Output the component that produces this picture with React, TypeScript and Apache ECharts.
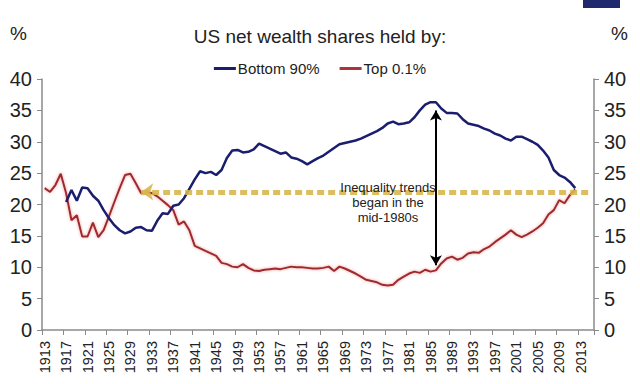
import React, { useEffect, useRef } from "react";
import * as echarts from "echarts";

const firstYear = 1913;
const lastYear = 2015;
const years: string[] = Array.from({ length: lastYear - firstYear + 1 }, (_, i) => String(firstYear + i));

const yTicks = [0, 5, 10, 15, 20, 25, 30, 35, 40];

// Bottom 90% share (%), 1913..2015 (null where no data)
const bottom90: (number | null)[] = [
  null, null, null, null,
  20.4, 22.3, 20.6, 22.7, 22.6, 21.4, 20.6, 19.1, 17.8, 16.7,
  15.9, 15.4, 15.7, 16.3, 16.4, 15.9, 15.8, 17.4, 18.6, 18.5,
  19.8, 20.0, 21.0, 22.5, 24.0, 25.3, 25.0, 25.2, 24.7, 25.5,
  27.4, 28.6, 28.7, 28.3, 28.4, 28.8, 29.7, 29.3, 28.9, 28.5,
  28.1, 28.3, 27.5, 27.3, 26.9, 26.4, 26.9, 27.4, 27.8, 28.4,
  29.0, 29.6, 29.8, 30.0, 30.2, 30.5, 30.9, 31.3, 31.7, 32.2,
  32.9, 33.2, 32.8, 32.9, 33.1, 33.9, 35.0, 35.9, 36.3, 36.3,
  35.3, 34.6, 34.6, 34.5, 33.6, 32.9, 32.7, 32.5, 32.1, 31.8,
  31.3, 31.0, 30.5, 30.2, 30.8, 30.8, 30.4, 30.0, 29.5, 28.6,
  27.5, 25.5, 24.7, 24.3, 23.6, 22.6,
  null, null, null,
];

// Top 0.1% share (%), 1913..2015
const top01: (number | null)[] = [
  22.6, 22.0, 23.1, 24.9, 21.8, 17.5, 18.3, 14.9, 14.9, 17.1,
  14.8, 15.9, 18.1, 20.4, 22.6, 24.7, 24.9, 23.4, 21.8, 22.0,
  21.8, 21.3, 20.6, 19.9, 19.1, 16.8, 17.3, 15.9, 13.4, 13.0,
  12.6, 12.2, 11.8, 10.7, 10.5, 10.1, 10.0, 10.5, 9.9, 9.5,
  9.4, 9.6, 9.7, 9.8, 9.7, 9.9, 10.1, 10.0, 10.0, 9.9,
  9.8, 9.8, 9.9, 10.1, 9.4, 10.1, 9.8, 9.4, 9.0, 8.5,
  8.0, 7.8, 7.6, 7.2, 7.1, 7.2, 8.0, 8.5, 9.0, 9.3,
  9.1, 9.6, 9.3, 9.5, 10.6, 11.4, 11.7, 11.2, 11.5, 12.2,
  12.4, 12.3, 12.9, 13.3, 14.0, 14.6, 15.2, 15.9, 15.2, 14.8,
  15.2, 15.7, 16.3, 17.0, 18.4, 19.1, 20.7, 20.2, 21.5, 22.4,
  null, null, null,
];

const seriesNames = ["Bottom 90%", "Top 0.1%"];
const titleText = "US net wealth shares held by:";
const noteText = "Inequality trends\nbegan in the\nmid-1980s";
const dashedArrow = { from: "1931", to: "2015", value: 22 };
const doubleArrow = { year: "1986", top: 35.0, bottom: 10.3 };

const FONT = "'Liberation Sans', Arial, sans-serif";

export default function App() {
  const ref = useRef<HTMLDivElement>(null);

  useEffect(() => {
    document.body.style.margin = "0";
    const chart = echarts.init(ref.current!, undefined, { renderer: "svg" });

    const yAxisCommon = {
      type: "value" as const,
      min: yTicks[0],
      max: yTicks[yTicks.length - 1],
      interval: 5,
      splitLine: { show: false },
      axisLine: { show: true, lineStyle: { color: "#8a8a8a", width: 1.5 } },
      axisTick: { show: true, length: 5, lineStyle: { color: "#8a8a8a", width: 1 } },
      axisLabel: { color: "#222", fontSize: 20, fontFamily: FONT, margin: 10 },
    };

    chart.setOption({
      animation: false,
      backgroundColor: "#ffffff",
      textStyle: { fontFamily: FONT },
      title: {
        text: titleText,
        left: "center",
        top: 22,
        textStyle: { fontSize: 19, fontWeight: "normal", color: "#222", fontFamily: FONT },
      },
      legend: {
        data: seriesNames,
        left: "center",
        top: 56,
        icon: "rect",
        itemWidth: 22,
        itemHeight: 3,
        itemGap: 20,
        textStyle: { fontSize: 15, color: "#222", fontFamily: FONT, padding: [0, 0, 0, -3] },
      },
      grid: { left: 42, right: 46, top: 79, bottom: 54, containLabel: false },
      xAxis: {
        type: "category",
        data: years,
        boundaryGap: true,
        axisLine: { show: true, lineStyle: { color: "#8a8a8a", width: 1.5 } },
        axisTick: { show: true, interval: 3, length: 5, lineStyle: { color: "#8a8a8a" } },
        axisLabel: { interval: 3, rotate: 90, fontSize: 14.5, color: "#222", fontFamily: FONT, margin: 11 },
      },
      yAxis: [
        { ...yAxisCommon, position: "left" },
        { ...yAxisCommon, position: "right" },
      ],
      series: [
        {
          name: seriesNames[0],
          type: "line",
          data: bottom90,
          yAxisIndex: 0,
          showSymbol: false,
          symbol: "none",
          connectNulls: false,
          itemStyle: { color: "#1b1d6e" },
          lineStyle: { color: "#1b1d6e", width: 2.5 },
          z: 3,
        },
        {
          name: seriesNames[1],
          type: "line",
          data: top01,
          yAxisIndex: 0,
          showSymbol: false,
          symbol: "none",
          itemStyle: { color: "#b0323a" },
          lineStyle: {
            color: "#9c2a2e",
            width: 2,
            shadowColor: "rgba(240,110,110,0.7)",
            shadowBlur: 3,
          },
          z: 2,
          markLine: {
            silent: true,
            animation: false,
            label: { show: false },
            data: [
              [
                {
                  coord: [dashedArrow.from, dashedArrow.value],
                  symbol: "arrow",
                  symbolSize: [13, 12],
                  lineStyle: { color: "#d8b64e", width: 5, type: [7, 4], opacity: 0.9 },
                },
                { coord: [dashedArrow.to, dashedArrow.value], symbol: "none" },
              ],
              [
                {
                  coord: [doubleArrow.year, doubleArrow.top],
                  symbol: "arrow",
                  symbolSize: [9, 10],
                  lineStyle: { color: "#000000", width: 2, type: "solid", opacity: 1 },
                },
                { coord: [doubleArrow.year, doubleArrow.bottom], symbol: "arrow", symbolSize: [9, 10] },
              ],
            ],
          },
        },
      ],
      graphic: [
        {
          type: "text",
          left: 10,
          top: 24,
          style: { text: "%", fontSize: 19, fill: "#222", fontFamily: FONT },
        },
        {
          type: "text",
          right: 12,
          top: 24,
          style: { text: "%", fontSize: 19, fill: "#222", fontFamily: FONT },
        },
        {
          type: "rect",
          shape: { x: 583, y: 0, width: 37, height: 8 },
          style: { fill: "#1f2a6e" },
        },
        {
          type: "text",
          x: 388,
          y: 180,
          z: 10,
          style: {
            text: noteText,
            fontSize: 13,
            lineHeight: 15,
            fill: "#222",
            align: "center",
            fontFamily: FONT,
          },
        },
      ],
    });

    return () => chart.dispose();
  }, []);

  return <div ref={ref} style={{ width: 640, height: 384 }} />;
}
